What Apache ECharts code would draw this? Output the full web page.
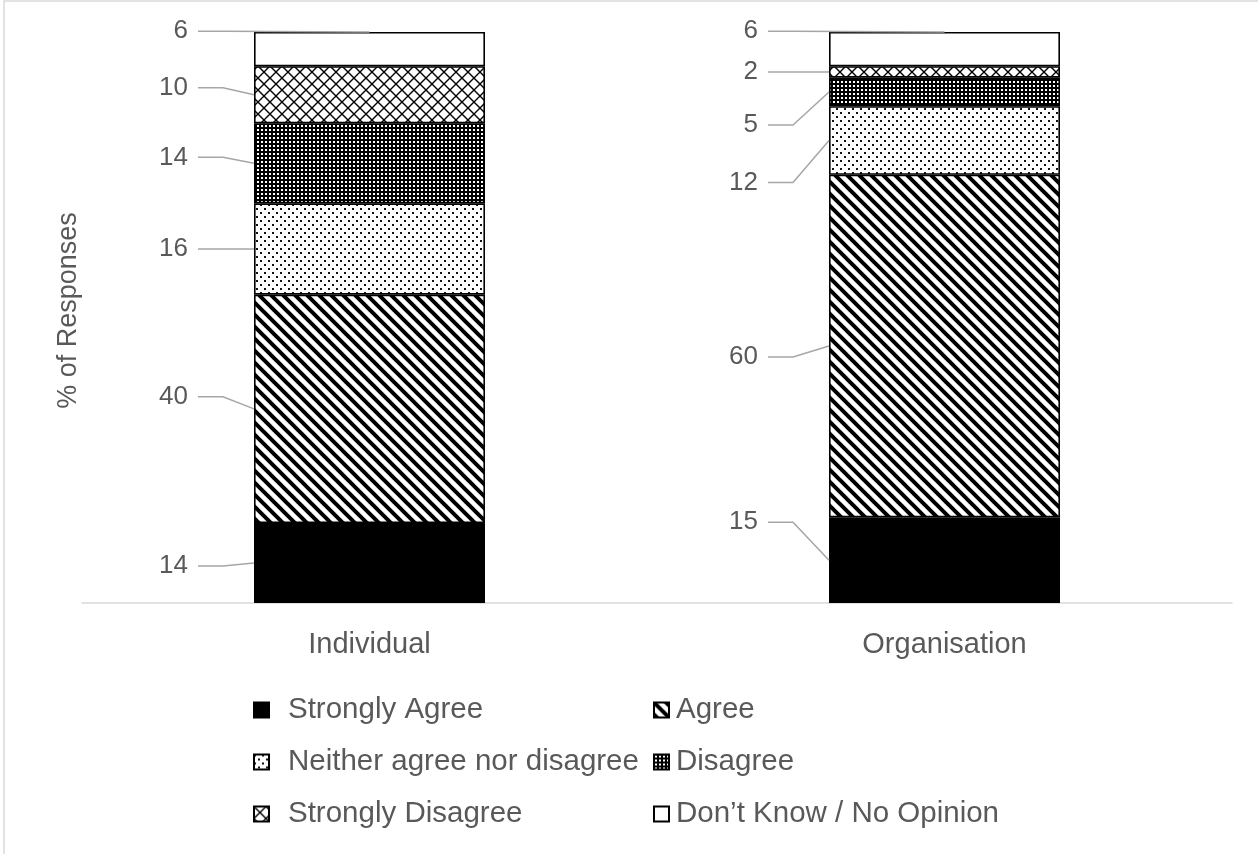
<!DOCTYPE html>
<html>
<head>
<meta charset="utf-8">
<script src="https://cdn.jsdelivr.net/npm/echarts@6/dist/echarts.min.js"></script>
<style>
html,body{margin:0;padding:0;background:#fff;}
#chart{width:1258px;height:854px;}
</style>
</head>
<body>
<div id="chart"></div>
<script>
// ---- data ----
const categories = ['Individual', 'Organisation'];
const seriesNames = ['Strongly Agree', 'Agree', 'Neither agree nor disagree', 'Disagree', 'Strongly Disagree', 'Don\u2019t Know / No Opinion'];
const stronglyAgree = [14, 15];
const agree = [40, 60];
const neither = [16, 12];
const disagree = [14, 5];
const stronglyDisagree = [10, 2];
const dontKnow = [6, 6];
const seriesValues = [stronglyAgree, agree, neither, disagree, stronglyDisagree, dontKnow];

// ---- label placement (layout only, pixel nudges from segment centre) ----
const LABEL_DY = [
  [3, -38],
  [-12, 11],
  [0, 42],
  [-6, 33],
  [-7, 0],
  [-18, -18]
];
const LABEL_DX = [66, 71];
const BAR_W = 231;

// ---- patterns ----
function tile(w, h, bg, draw) {
  const c = document.createElement('canvas');
  c.width = w; c.height = h;
  const g = c.getContext('2d');
  g.fillStyle = bg; g.fillRect(0, 0, w, h);
  draw(g, w, h);
  return c;
}
const pAgree = tile(12, 12, '#fff', function (g) {
  g.strokeStyle = '#000'; g.lineWidth = 4.0; g.beginPath();
  for (let k = -1; k <= 1; k++) { g.moveTo(k * 12 - 3, -3); g.lineTo(k * 12 + 15, 15); }
  g.stroke();
});
const pNeither = tile(8, 8, '#fff', function (g) {
  g.fillStyle = '#111';
  g.fillRect(0, 0, 2, 2); g.fillRect(4, 4, 2, 2);
});
const pDisagree = tile(4, 4, '#000', function (g) {
  g.fillStyle = '#fff';
  g.fillRect(1, 1, 2, 2);
});
const pStrongDis = tile(12, 12, '#fff', function (g) {
  g.strokeStyle = '#000'; g.lineWidth = 1.4; g.beginPath();
  g.moveTo(-1, -1); g.lineTo(13, 13);
  g.moveTo(13, -1); g.lineTo(-1, 13);
  g.stroke();
});
const fills = [
  '#000',
  { image: pAgree, repeat: 'repeat' },
  { image: pNeither, repeat: 'repeat' },
  { image: pDisagree, repeat: 'repeat' },
  { image: pStrongDis, repeat: 'repeat' },
  '#fff'
];

const FONT = 'Liberation Sans, Arial, sans-serif';
const TXT = '#595959';

const chart = echarts.init(document.getElementById('chart'), null, { renderer: 'canvas' });

const series = seriesNames.map(function (name, si) {
  return {
    name: name,
    type: 'bar',
    stack: 'total',
    barWidth: BAR_W,
    data: seriesValues[si],
    itemStyle: { color: fills[si], borderColor: '#000', borderWidth: 1.6 },
    emphasis: { disabled: true },
    label: {
      show: true,
      position: 'left',
      formatter: '{c}',
      color: TXT,
      fontFamily: FONT,
      fontSize: 26
    },
    labelLayout: function (p) {
      const r = p.rect;
      return {
        x: r.x - LABEL_DX[p.dataIndex],
        y: r.y + r.height / 2 + LABEL_DY[si][p.dataIndex],
        align: 'right',
        verticalAlign: 'middle'
      };
    }
  };
});

function legendText(gap) {
  return { color: TXT, fontFamily: FONT, fontSize: 29.5, lineHeight: 30, padding: [0, 0, 0, gap] };
}

const borderGraphic = {
  id: 'frame',
  type: 'rect',
  shape: { x: 4, y: 1, width: 1300, height: 900 },
  style: { fill: 'none', stroke: '#d9d9d9', lineWidth: 1.5 },
  silent: true
};

chart.setOption({
  backgroundColor: '#fff',
  animation: false,
  graphic: [borderGraphic],
  grid: { left: 82, right: 26, top: 32, bottom: 251 },
  legend: [
    {
      orient: 'vertical', left: 248, top: 690, itemGap: 22,
      itemWidth: 15, itemHeight: 15, icon: 'rect',
      data: [seriesNames[0], seriesNames[2], seriesNames[4]],
      textStyle: legendText(14), selectedMode: false
    },
    {
      orient: 'vertical', left: 648, top: 690, itemGap: 22,
      itemWidth: 15, itemHeight: 15, icon: 'rect',
      data: [seriesNames[1], seriesNames[3], seriesNames[5]],
      textStyle: legendText(2), selectedMode: false
    }
  ],
  xAxis: {
    type: 'category',
    data: categories,
    axisLine: { lineStyle: { color: '#d9d9d9', width: 1.5 } },
    axisTick: { show: false },
    axisLabel: { color: TXT, fontFamily: FONT, fontSize: 29, margin: 27 }
  },
  yAxis: {
    type: 'value',
    min: 0, max: 100,
    name: '% of Responses',
    nameLocation: 'middle',
    nameRotate: 90,
    nameGap: 0,
    nameTextStyle: { color: TXT, fontFamily: FONT, fontSize: 27, padding: [0, 0, 0, 14] },
    axisLine: { show: false },
    axisTick: { show: false },
    axisLabel: { show: false },
    splitLine: { show: false }
  },
  series: series
});

// ---- leader lines, positioned through the chart's own scales ----
const leaders = [];
categories.forEach(function (cat, ci) {
  let base = 0;
  seriesValues.forEach(function (vals, si) {
    const v = vals[ci];
    const pMid = chart.convertToPixel({ gridIndex: 0 }, [ci, base + v / 2]);
    const pTop = chart.convertToPixel({ gridIndex: 0 }, [ci, base + v]);
    const left = pMid[0] - BAR_W / 2;
    const ly = pMid[1] + LABEL_DY[si][ci];
    const lx = left - LABEL_DX[ci];
    const target = (si === seriesValues.length - 1) ? [pMid[0], pTop[1]] : [left, pMid[1]];
    leaders.push({
      type: 'polyline',
      silent: true,
      z: 10,
      shape: { points: [[lx + 10, ly], [lx + 35, ly], target] },
      style: { stroke: '#a6a6a6', lineWidth: 1.5, fill: null }
    });
    base += v;
  });
});
chart.setOption({ graphic: [borderGraphic].concat(leaders) }, { replaceMerge: ['graphic'] });
</script>
</body>
</html>
